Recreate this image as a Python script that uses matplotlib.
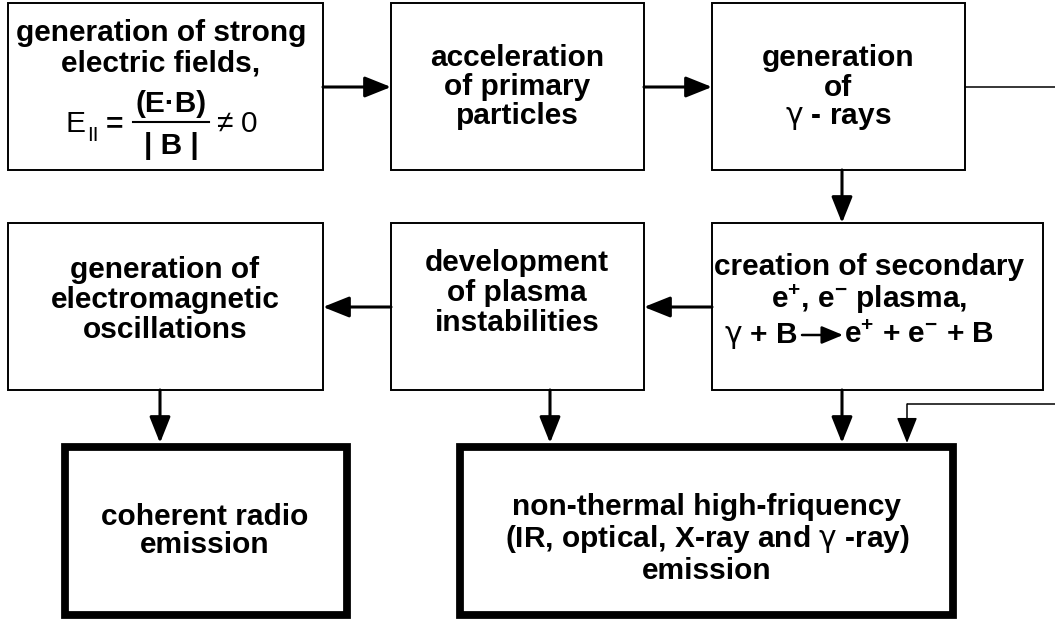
"""Flow diagram: from strong electric fields to pulsar emission (boxes + arrows)."""

import matplotlib

matplotlib.use("Agg")
import matplotlib.pyplot as plt
from matplotlib.patches import Rectangle

plt.rcParams["font.family"] = ["Liberation Sans", "DejaVu Sans"]
plt.rcParams["mathtext.fontset"] = "custom"
plt.rcParams["mathtext.rm"] = "Liberation Sans"
plt.rcParams["mathtext.bf"] = "Liberation Sans:bold"
plt.rcParams["mathtext.it"] = "Liberation Sans:italic"
plt.rcParams["mathtext.sf"] = "DejaVu Sans"

G = r"$\mathsf{\gamma}$"

# box texts
fields_lines = ["generation of strong", "electric fields,"]
accel_lines = ["acceleration", "of primary", "particles"]
gamma_lines = ["generation", "of", G + " - rays"]
emo_lines = ["generation of", "electromagnetic", "oscillations"]
plasma_lines = ["development", "of plasma", "instabilities"]
pair_lines = ["creation of secondary", r"e$^{\mathbf{+}}$, e$^{\mathbf{-}}$ plasma,"]
pair_reaction = [G + " + B", r"e$^{\mathbf{+}}$ + e$^{\mathbf{-}}$ + B"]
radio_lines = ["coherent radio", "emission"]
hf_lines = ["non-thermal high-friquency", "(IR, optical, X-ray and " + G + " -ray)", "emission"]

W, H = 1055, 620
FS = 21.5
THIN, THICK = 1.4, 5.6


def box(ax, x0, y0, x1, y1, lw):
    ax.add_patch(Rectangle((x0, y0), x1 - x0, y1 - y0, fill=False, ec="black",
                           lw=lw, joinstyle="miter"))


def write(ax, xc, baselines, texts, **kw):
    for b, t in zip(baselines, texts):
        ax.text(xc, b, t, ha="center", va="baseline", fontsize=FS,
                fontweight="bold", **kw)


def arrow(ax, p0, p1, lw=2.2, hl=0.8, hw=0.32, ms=20):
    ax.annotate("", xy=p1, xytext=p0,
                arrowprops=dict(arrowstyle=f"-|>,head_length={hl},head_width={hw}",
                                mutation_scale=ms, lw=lw, color="black",
                                shrinkA=0, shrinkB=0))


fig = plt.figure(figsize=(W / 100, H / 100), dpi=100)
ax = fig.add_axes([0, 0, 1, 1])
ax.set_xlim(0, W)
ax.set_ylim(H, 0)
ax.axis("off")

# top row
box(ax, 8, 3, 323, 170, THIN)
box(ax, 391, 3, 644, 170, THIN)
box(ax, 712, 3, 965, 170, THIN)
# middle row
box(ax, 8, 223, 323, 390, THIN)
box(ax, 391, 223, 644, 390, THIN)
box(ax, 712, 223, 1043, 390, THIN)
# outputs
box(ax, 65, 447, 347, 615, THICK)
box(ax, 460, 447, 953, 615, THICK)

write(ax, 161, [41, 72], fields_lines)
# E_II = (E.B)/|B| != 0
ax.text(66, 132, "E", fontsize=FS, va="baseline")
ax.text(87, 141, "II", fontsize=15, va="baseline")
ax.text(106, 132, "=", fontsize=FS, fontweight="bold", va="baseline")
ax.text(171, 112, "(E·B)", fontsize=FS, fontweight="bold", ha="center", va="baseline")
ax.plot([133, 209], [122, 122], color="black", lw=1.5)
ax.text(171, 154, "| B |", fontsize=FS, fontweight="bold", ha="center", va="baseline")
ax.text(216, 132, "≠", fontsize=FS, va="baseline")
ax.text(241, 132, "0", fontsize=FS, va="baseline")

write(ax, 517, [66, 95, 124], accel_lines)
write(ax, 838, [66, 96, 124], gamma_lines)
write(ax, 165, [278, 308, 338], emo_lines)
write(ax, 517, [271, 301, 331], plasma_lines)
write(ax, 869, [275, 308], pair_lines)
ax.text(798, 343, pair_reaction[0], fontsize=FS, fontweight="bold", ha="right", va="baseline")
arrow(ax, (802, 335), (843, 335), lw=1.8, hl=0.65, hw=0.27)
ax.text(844, 343, pair_reaction[1], fontsize=FS, fontweight="bold", ha="left", va="baseline")
write(ax, 205, [525, 553], radio_lines)
write(ax, 707, [515, 547, 579], hf_lines)

# horizontal flow
arrow(ax, (323, 87), (391, 87))
arrow(ax, (644, 87), (712, 87))
arrow(ax, (842, 170), (842, 223))
arrow(ax, (391, 307), (323, 307))
arrow(ax, (712, 307), (644, 307))
# down to outputs
arrow(ax, (160, 390), (160, 443))
arrow(ax, (550, 390), (550, 443))
arrow(ax, (842, 390), (842, 443))
# wrap-around gamma-ray line
ax.plot([965, W], [87, 87], color="black", lw=1.1)
ax.plot([W, 907], [404, 404], color="black", lw=1.1, solid_capstyle="butt")
arrow(ax, (907, 404), (907, 443), lw=1.1)

fig.savefig("out.png", dpi=100, facecolor="white")
plt.close(fig)
